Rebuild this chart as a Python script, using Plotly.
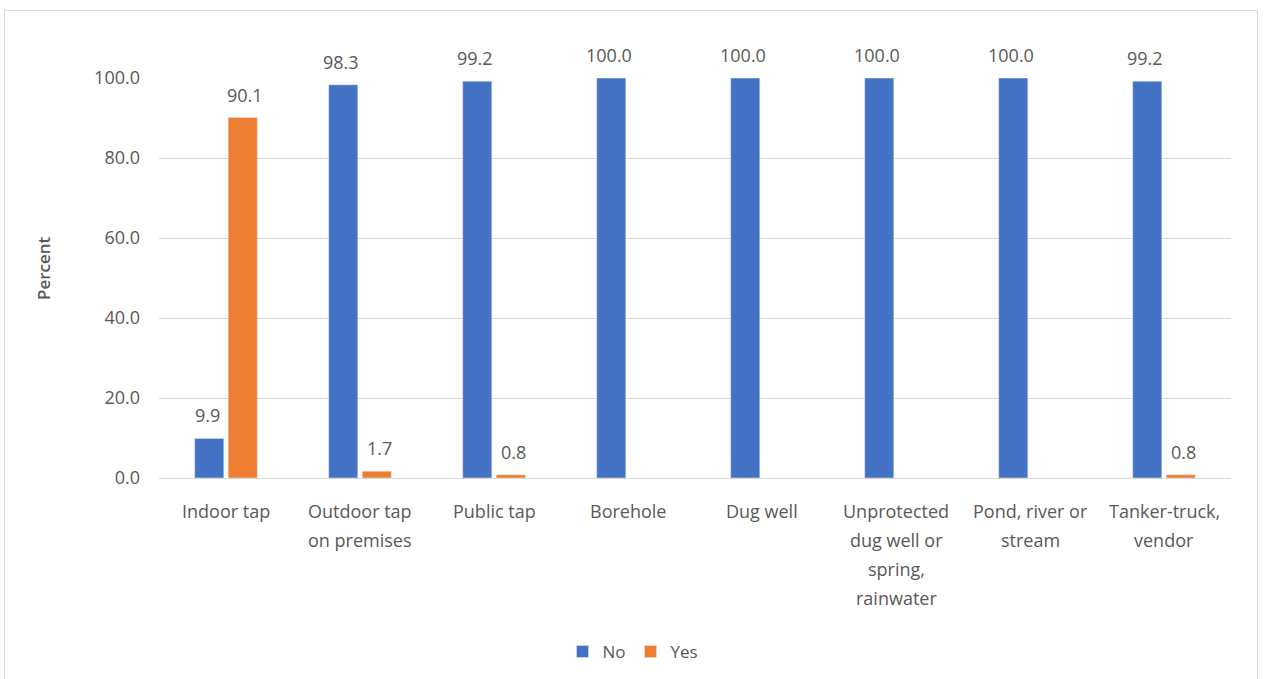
import plotly.graph_objects as go

# Main water source categories and responses (percent)
categories = [
    "Indoor tap",
    "Outdoor tap on premises",
    "Public tap",
    "Borehole",
    "Dug well",
    "Unprotected dug well or spring, rainwater",
    "Pond, river or stream",
    "Tanker-truck, vendor",
]
# Wrapped category labels, one list of lines per category
category_lines = [
    ["Indoor tap"],
    ["Outdoor tap", "on premises"],
    ["Public tap"],
    ["Borehole"],
    ["Dug well"],
    ["Unprotected", "dug well or", "spring,", "rainwater"],
    ["Pond, river or", "stream"],
    ["Tanker-truck,", "vendor"],
]
no_values = [9.9, 98.3, 99.2, 100.0, 100.0, 100.0, 100.0, 99.2]
yes_values = [90.1, 1.7, 0.8, None, None, None, None, 0.8]
y_ticks = [0, 20, 40, 60, 80, 100]

BLUE = "#4472C4"
ORANGE = "#ED7D31"
TEXT = "#595959"
GRID = "#D9D9D9"
FONT = "Open Sans"

fig = go.Figure()
fig.add_trace(go.Bar(name="No", x=categories, y=no_values, marker_color=BLUE))
fig.add_trace(go.Bar(name="Yes", x=categories, y=yes_values, marker_color=ORANGE))

# Value labels above each bar, shifted to the bar's slot within the group
for values, shift in ((no_values, -19), (yes_values, 19)):
    for cat, v in zip(categories, values):
        if v is None:
            continue
        fig.add_annotation(
            x=cat, y=v, text=f"{v:.1f}", showarrow=False,
            xshift=shift, yshift=9, yanchor="bottom",
            font=dict(family=FONT, size=18, color=TEXT),
        )

# Category labels under the axis, with wider line spacing
for cat, lines in zip(categories, category_lines):
    for i, line in enumerate(lines):
        fig.add_annotation(
            x=cat, y=0, text=line, showarrow=False,
            xanchor="center", yanchor="middle",
            yshift=-33 - 29 * i,
            font=dict(family=FONT, size=18, color=TEXT),
        )

# Axis title
fig.add_annotation(
    text="Percent", xref="paper", yref="paper",
    x=(43 - 159) / 1072, y=(478 - 268) / 400,
    xanchor="center", yanchor="middle",
    textangle=-90, showarrow=False,
    font=dict(family=FONT, size=17, color=TEXT, weight=600),
)

# Chart border
fig.add_shape(
    type="rect", xref="paper", yref="paper",
    x0=(4.5 - 159) / 1072, x1=(1257.5 - 159) / 1072,
    y0=-0.6, y1=(478 - 10.5) / 400,
    line=dict(color=GRID, width=1), fillcolor="rgba(0,0,0,0)", layer="below",
)

fig.update_layout(
    width=1266, height=679,
    margin=dict(l=159, r=35, t=78, b=201),
    paper_bgcolor="white", plot_bgcolor="white",
    barmode="group", bargap=0.5, bargroupgap=0.13,
    font=dict(family=FONT, size=18, color=TEXT),
    showlegend=True,
    legend=dict(
        orientation="h", xref="container", yref="container",
        x=0.5, xanchor="center", y=1 - 652 / 679, yanchor="middle",
        font=dict(family=FONT, size=17, color=TEXT),
        itemwidth=30,
    ),
)
fig.update_xaxes(
    showgrid=False, showline=False, ticks="", showticklabels=False,
)
fig.update_yaxes(
    range=[0, 100], tickvals=y_ticks, tickformat=".1f",
    showgrid=True, gridcolor=GRID, gridwidth=1,
    zeroline=True, zerolinecolor=GRID, zerolinewidth=1,
    showline=False, ticks="", ticklabelstandoff=18,
    tickfont=dict(family=FONT, size=18, color=TEXT),
)

fig.write_html("out.html")
